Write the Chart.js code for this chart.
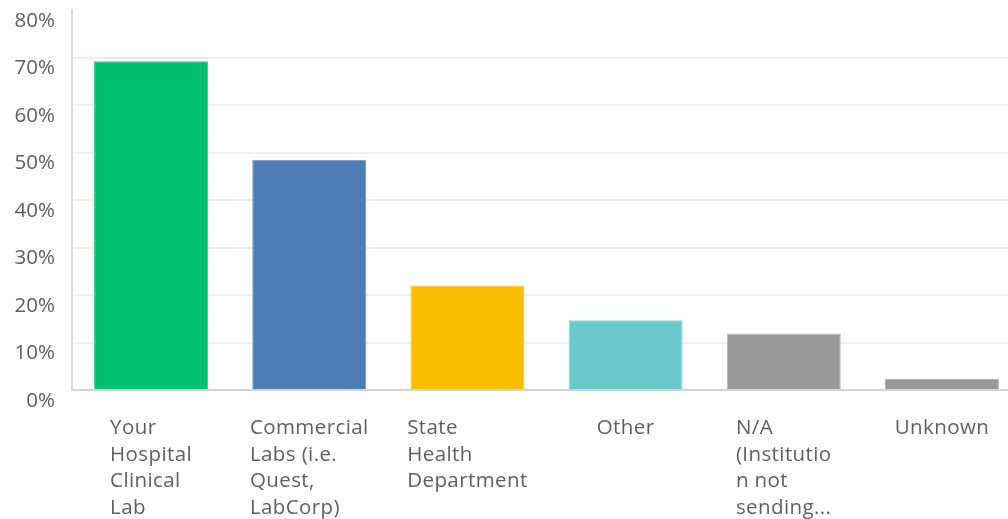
<!DOCTYPE html>
<html>
<head>
<meta charset="utf-8">
<script src="https://cdn.jsdelivr.net/npm/chart.js@4.4.0/dist/chart.umd.min.js"></script>
<style>
  body { margin: 0; background: #fff; overflow: hidden; }
  #wrap { position: absolute; left: 0; top: 0; width: 1021px; height: 519px; }
</style>
</head>
<body>
<div id="wrap"><canvas id="labChart"></canvas></div>
<script>
// answer choices, each split into the lines shown under its bar
var categories = [
    ["Your", "Hospital", "Clinical", "Lab"],
    ["Commercial", "Labs (i.e.", "Quest,", "LabCorp)"],
    ["State", "Health", "Department"],
    ["Other"],
    ["N/A", "(Institutio", "n not", "sending..."],
    ["Unknown"]
];
var percents = [69.2, 48.5, 22.0, 14.7, 11.9, 2.3];
var barColors = ["#00bf6f", "#507cb6", "#f9be00", "#6bc8cd", "#999999", "#999999"];
var edgeColors = ["#33cc8c", "#7396c5", "#fbcb33", "#89d3d7", "#b3b3b3", "#b3b3b3"];
var yTicks = [0, 10, 20, 30, 40, 50, 60, 70, 80];

var fontFamily = "'Open Sans', sans-serif";
var textColor = "#5f5f5f";

// multi-line x labels: lines left-aligned, block centred under the bar
const blockLabels = {
    id: 'blockLabels',
    afterDraw(chart) {
        var ctx = chart.ctx;
        var xs = chart.scales.x;
        var top = chart.chartArea.bottom + 44;
        ctx.save();
        ctx.font = "20.5px " + fontFamily;
        ctx.letterSpacing = "0.4px";
        ctx.fillStyle = textColor;
        ctx.textAlign = 'left';
        ctx.textBaseline = 'alphabetic';
        categories.forEach((lines, i) => {
            var w = Math.max(...lines.map(l => ctx.measureText(l).width));
            var left = xs.getPixelForValue(i) - w / 2;
            lines.forEach((l, j) => ctx.fillText(l, left, top + j * 26.5));
        });
        ctx.restore();
    }
};

new Chart(document.getElementById('labChart'), {
    type: 'bar',
    data: {
        labels: categories.map(c => c.join(' ')),
        datasets: [{
            data: percents,
            backgroundColor: barColors,
            borderColor: edgeColors,
            borderWidth: 1,
            barPercentage: 0.7208,
            categoryPercentage: 1
        }]
    },
    options: {
        responsive: true,
        maintainAspectRatio: false,
        animation: false,
        layout: { padding: { top: 10, right: 0, left: 0, bottom: 0 } },
        plugins: { legend: { display: false }, tooltip: { enabled: false } },
        scales: {
            x: {
                grid: { display: false, drawTicks: false },
                border: { color: '#d3d3d3', width: 2 },
                ticks: { display: false },
                afterFit: s => { s.height = 129; s.paddingLeft = 0; s.paddingRight = 0; }
            },
            y: {
                min: 0,
                max: 80,
                afterBuildTicks: s => { s.ticks = yTicks.map(v => ({ value: v })); },
                grid: {
                    drawTicks: false,
                    lineWidth: 2,
                    color: c => (c.tick.value === 0 || c.tick.value === 80) ? 'rgba(0,0,0,0)' : '#efefef'
                },
                border: { color: '#dcdcdc', width: 2 },
                ticks: {
                    padding: 17,
                    labelOffset: 11,
                    color: textColor,
                    font: { family: fontFamily, size: 20.5 },
                    callback: v => v + '%'
                },
                afterFit: s => { s.width = 72; s.paddingTop = 0; s.paddingBottom = 0; }
            }
        }
    },
    plugins: [blockLabels]
});
</script>
</body>
</html>
